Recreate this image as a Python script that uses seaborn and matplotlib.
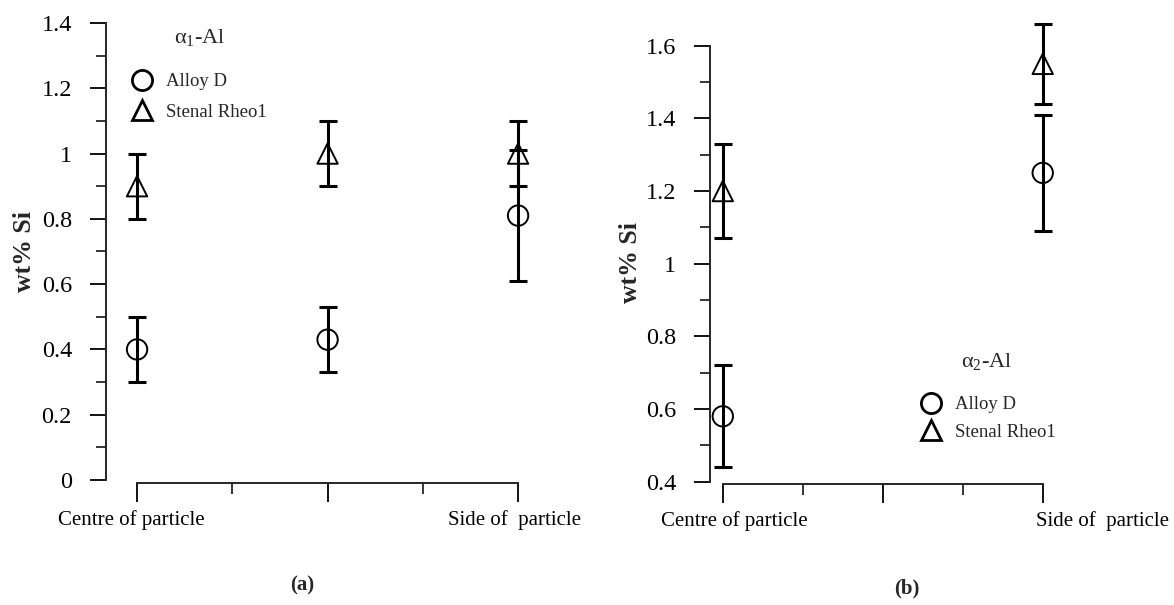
import matplotlib
matplotlib.use("Agg")
import matplotlib.pyplot as plt
import numpy as np
import pandas as pd
import seaborn as sns
from matplotlib.lines import Line2D
from matplotlib.ticker import FixedLocator
from matplotlib.transforms import ScaledTranslation


# panel (a): alpha1-Al, three locations across the particle
positions_a = [0, 1, 2]
alloy_d_a = [0.40, 0.43, 0.81]
alloy_d_a_err = [0.10, 0.10, 0.20]
rheo_a = [0.90, 1.00, 1.00]
rheo_a_err = [0.10, 0.10, 0.10]
xlabels_a = ["Centre of particle", "", "Side of  particle"]

# panel (b): alpha2-Al, centre and side only
positions_b = [0, 1]
alloy_d_b = [0.58, 1.25]
alloy_d_b_err = [0.14, 0.16]
rheo_b = [1.20, 1.55]
rheo_b_err = [0.13, 0.11]
xlabels_b = ["Centre of particle", "", "Side of  particle"]

series_names = ["Alloy D", "Stenal Rheo1"]
series_markers = {"Alloy D": "o", "Stenal Rheo1": "^"}

W, H = 1174, 605

sns.set_theme(style="ticks")
plt.rcParams["font.family"] = ["Liberation Serif", "DejaVu Serif"]
plt.rcParams["mathtext.fontset"] = "custom"
plt.rcParams["mathtext.rm"] = "Liberation Serif"
plt.rcParams["mathtext.it"] = "Liberation Serif:italic"


def to_frame(pos, alloy, alloy_err, rheo, rheo_err):
    return pd.DataFrame({
        "pos": list(pos) + list(pos),
        "wt": list(alloy) + list(rheo),
        "err": list(alloy_err) + list(rheo_err),
        "alloy": [series_names[0]] * len(pos) + [series_names[1]] * len(pos),
    })


def draw_panel(ax, df, ylim, ybounds, xbounds, xlabels, label_shift,
               legend_anchor, legend_spacing):
    ax.errorbar(df["pos"], df["wt"], yerr=df["err"], fmt="none", ecolor="black",
                elinewidth=2.2, capsize=6.5, capthick=2.2, zorder=2)
    sns.scatterplot(data=df, x="pos", y="wt", style="alloy", markers=series_markers,
                    s=215, color="black", linewidth=1.4, legend=False, ax=ax, zorder=3)
    for coll in ax.collections:
        if len(coll.get_offsets()) > 0:
            coll.set_facecolor("none")
            coll.set_edgecolor("black")

    ax.set_ylim(*ylim)
    ax.spines["top"].set_visible(False)
    ax.spines["right"].set_visible(False)
    ax.spines["left"].set_bounds(*ybounds)
    ax.spines["bottom"].set_bounds(*xbounds)
    ax.spines["bottom"].set_position(("outward", 2))
    for s in ("left", "bottom"):
        ax.spines[s].set_linewidth(1.4)

    majors = np.arange(ybounds[0], ybounds[1] + 0.01, 0.2).round(1)
    ax.yaxis.set_major_locator(FixedLocator(majors))
    ax.yaxis.set_minor_locator(FixedLocator(np.arange(ybounds[0], ybounds[1] + 0.01, 0.1)))
    ax.set_yticklabels([f"{v:g}" for v in majors])
    mid = (xbounds[0] + xbounds[1]) / 2
    ax.set_xticks([xbounds[0], mid, xbounds[1]])
    ax.set_xticklabels(xlabels)
    ax.xaxis.set_minor_locator(FixedLocator([(xbounds[0] + mid) / 2, (mid + xbounds[1]) / 2]))

    ax.tick_params(axis="y", which="major", direction="out", length=11.5, width=1.3,
                   labelsize=17.5, pad=13, colors="black")
    ax.tick_params(axis="y", which="minor", direction="out", length=7, width=1.3)
    ax.tick_params(axis="x", which="major", direction="out", length=13.5, width=1.3,
                   labelsize=15, pad=6, colors="black")
    ax.tick_params(axis="x", which="minor", direction="out", length=8, width=1.3)

    # the original labels sit a little off their ticks
    for lab, dx in zip(ax.get_xticklabels(), label_shift):
        lab.set_transform(lab.get_transform() + ScaledTranslation(dx / 100, 0, fig.dpi_scale_trans))

    ax.set_xlabel("")
    ax.set_ylabel("wt% Si", fontsize=18.5, fontweight="bold", va="center")

    handles = [Line2D([], [], linestyle="none", marker=series_markers[n], markersize=14.5,
                      markerfacecolor="none", markeredgecolor="black", markeredgewidth=2.0)
               for n in series_names]
    ax.legend(handles, series_names, loc="upper left", bbox_to_anchor=legend_anchor,
              frameon=False, fontsize=13.5, handlelength=1.0, handletextpad=0.8,
              labelspacing=legend_spacing, borderaxespad=0)


fig = plt.figure(figsize=(W / 100, H / 100), dpi=100)

# left panel
ax_a = fig.add_axes([106 / W, 125 / H, (560 - 106) / W, 457 / H])
df_a = to_frame(positions_a, alloy_d_a, alloy_d_a_err, rheo_a, rheo_a_err)
ax_a.set_xlim(-0.163, 2.22)
draw_panel(ax_a, df_a, (0, 1.4), (0, 1.4), (0, 2), xlabels_a, [-5.5, 0, -4],
           (0.042, 0.907), 0.71)
ax_a.yaxis.set_label_coords(-0.18, 0.5)

# right panel
ax_b = fig.add_axes([710 / W, 123.3 / H, (1100 - 710) / W, 472.3 / H])
df_b = to_frame(positions_b, alloy_d_b, alloy_d_b_err, rheo_b, rheo_b_err)
ax_b.set_xlim(-0.04, 1.179)
draw_panel(ax_b, df_b, (0.4, 1.7), (0.4, 1.6), (0, 1), xlabels_b, [11.5, 0, 60],
           (0.5226, 0.197), 0.55)
ax_b.yaxis.set_label_coords(-0.205, 0.465)

fig.text(200 / W, 1 - 37 / H, "α$_1$-Al", fontsize=16, ha="center", va="center")
fig.text(987 / W, 1 - 362 / H, "α$_2$-Al", fontsize=16, ha="center", va="center")
fig.text(302 / W, 1 - 585 / H, "(a)", ha="center", va="center", fontsize=15, fontweight="bold")
fig.text(907 / W, 1 - 588 / H, "(b)", ha="center", va="center", fontsize=15, fontweight="bold")

fig.savefig("out.png", dpi=100)
